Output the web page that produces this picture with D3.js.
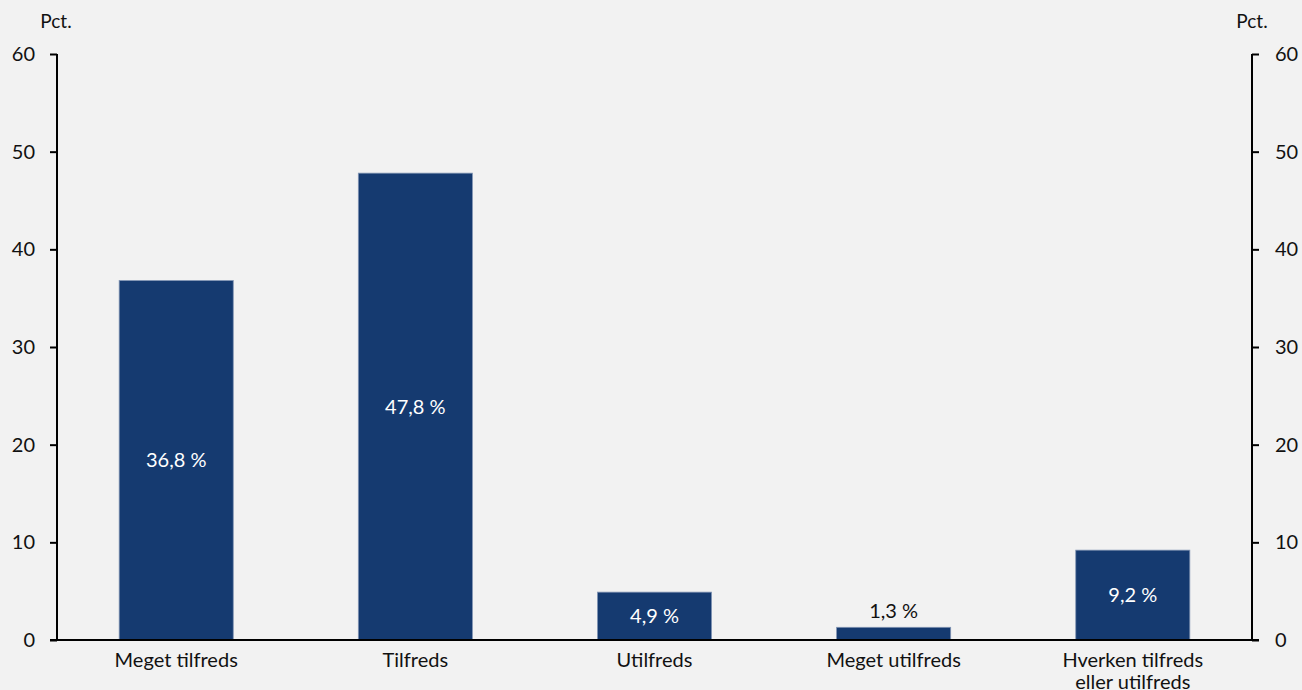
<!DOCTYPE html>
<html>
<head>
<meta charset="utf-8">
<script src="https://cdn.jsdelivr.net/npm/d3@7"></script>
<style>
  html, body { margin: 0; padding: 0; background: #f2f2f2; }
  svg { display: block; font-family: Lato, "Open Sans", sans-serif; }
</style>
</head>
<body>
<svg id="chart" width="1302" height="690"></svg>
<script>
// Tilfredshed – andel af besvarelser (pct.)
const categories = ["Meget tilfreds", "Tilfreds", "Utilfreds", "Meget utilfreds", "Hverken tilfreds|eller utilfreds"];
const values = [36.8, 47.8, 4.9, 1.3, 9.2];
const valueLabels = ["36,8 %", "47,8 %", "4,9 %", "1,3 %", "9,2 %"];
const yTicks = [0, 10, 20, 30, 40, 50, 60];

const svg = d3.select("#chart");
const plotLeft = 57, plotRight = 1252, plotTop = 54, plotBottom = 640;
const fontSize = 20;

const x = d3.scaleBand().domain(categories).range([plotLeft, plotRight]).paddingInner(0.523).paddingOuter(0.26);
const y = d3.scaleLinear().domain([0, 60]).range([plotBottom, plotTop]);

// Bars
svg.append("g").selectAll("rect")
  .data(values)
  .join("rect")
  .attr("x", (d, i) => x(categories[i]))
  .attr("width", x.bandwidth())
  .attr("y", d => y(d))
  .attr("height", d => y(0) - y(d))
  .attr("fill", "#153a70")
  .attr("stroke", "#8194b3")
  .attr("stroke-width", 0.8);

// Value labels: inside bar (centered) unless bar is too short
svg.append("g").selectAll("text")
  .data(values)
  .join("text")
  .attr("x", (d, i) => x(categories[i]) + x.bandwidth() / 2)
  .attr("y", d => d < 3 ? y(d) - 16 : y(d / 2))
  .attr("dy", "0.35em")
  .attr("text-anchor", "middle")
  .attr("font-size", fontSize)
  .attr("fill", d => d < 3 ? "#111" : "#ffffff")
  .text((d, i) => valueLabels[i]);

// Left axis
const yLeft = d3.axisLeft(y).tickValues(yTicks).tickSize(7).tickPadding(15).tickFormat(d3.format("d"));
const gl = svg.append("g").attr("transform", `translate(${plotLeft},0)`).call(yLeft);
// Right axis
const yRight = d3.axisRight(y).tickValues(yTicks).tickSize(7).tickPadding(16).tickFormat(d3.format("d"));
const gr = svg.append("g").attr("transform", `translate(${plotRight},0)`).call(yRight);

[gl, gr].forEach(g => {
  g.select(".domain").attr("stroke", "#000").attr("stroke-width", 2)
    .attr("d", `M0,${plotTop}V${plotBottom}`);
  g.selectAll(".tick line").attr("stroke", "#000").attr("stroke-width", 2);
  g.selectAll(".tick text").attr("font-size", fontSize).attr("fill", "#111").attr("font-family", "Lato, 'Open Sans', sans-serif");
});

// Baseline (x axis)
svg.append("line")
  .attr("x1", plotLeft - 7).attr("x2", plotRight + 7)
  .attr("y1", y(0)).attr("y2", y(0))
  .attr("stroke", "#000").attr("stroke-width", 2);

// Category labels
const catG = svg.append("g");
categories.forEach(c => {
  const lines = c.split("|");
  const cx = x(c) + x.bandwidth() / 2;
  const t = catG.append("text")
    .attr("x", cx)
    .attr("y", 667)
    .attr("text-anchor", "middle")
    .attr("font-size", fontSize)
    .attr("fill", "#111");
  lines.forEach((ln, j) => {
    t.append("tspan").attr("x", cx).attr("dy", j === 0 ? 0 : 22).text(ln);
  });
});

// Unit labels
svg.append("text").attr("x", 56).attr("y", 28).attr("text-anchor", "middle").attr("font-size", 19).attr("fill", "#111").text("Pct.");
svg.append("text").attr("x", 1252).attr("y", 28).attr("text-anchor", "middle").attr("font-size", 19).attr("fill", "#111").text("Pct.");
</script>
</body>
</html>
